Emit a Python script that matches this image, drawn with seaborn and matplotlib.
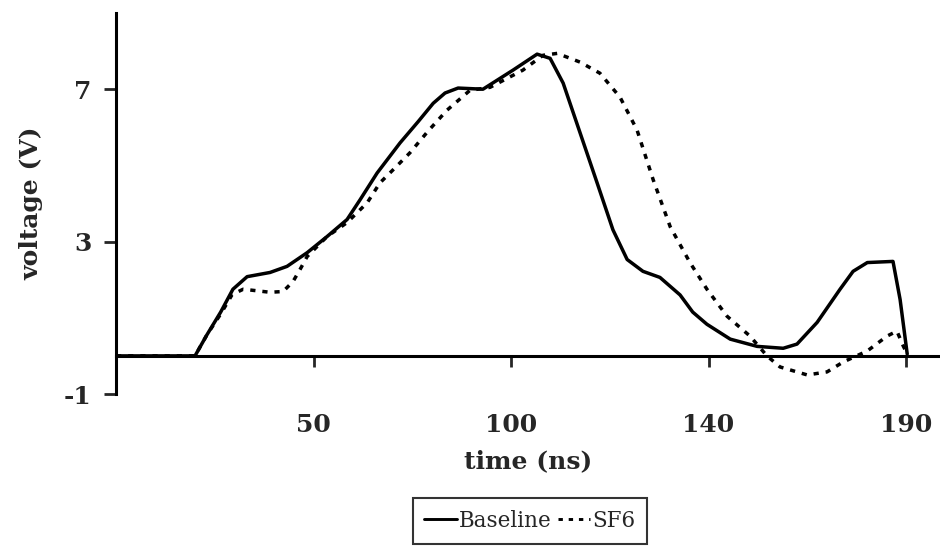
# Pulse voltage vs. time, baseline vs. SF6

import pandas as pd
import matplotlib
matplotlib.use("Agg")
import matplotlib.pyplot as plt
from matplotlib.lines import Line2D
import seaborn as sns

# --- data (tick positions 50,100,150,200 carry labels 50,100,140,190) ---
baseline_t = [0, 20.0, 23.0, 26.5, 29.6, 33.2, 39.0, 43.3, 48.4, 53.4, 58.5, 61.8, 66.1, 71.9,
              76.5, 80.3, 83.3, 86.6, 92.9, 100.5, 106.6, 109.9, 113.2, 117.5, 121.8, 125.8,
              129.4, 133.4, 137.7, 142.8, 146.0, 149.6, 155.5, 162.3, 168.9, 172.4, 177.5,
              183.3, 186.6, 190.2, 196.7, 198.5, 200.3]
baseline_v = [0, 0.0, 0.55, 1.15, 1.75, 2.08, 2.19, 2.35, 2.71, 3.13, 3.58, 4.10, 4.80, 5.59,
              6.15, 6.63, 6.90, 7.03, 7.00, 7.50, 7.92, 7.81, 7.16, 5.85, 4.54, 3.31,
              2.53, 2.22, 2.06, 1.60, 1.15, 0.83, 0.44, 0.25, 0.20, 0.31, 0.88,
              1.75, 2.22, 2.45, 2.48, 1.48, 0.05]

sf6_t = [0, 20.0, 23.0, 26.5, 29.4, 32.2, 39.0, 42.3, 44.8, 46.6, 48.4, 53.4, 58.5, 63.6, 66.8,
         70.1, 74.4, 79.0, 83.8, 89.6, 94.7, 103.0, 108.1, 111.7, 117.5, 122.5, 127.6, 131.9,
         136.0, 140.3, 145.3, 149.6, 154.7, 160.5, 164.8, 168.1, 175.0, 180.0, 184.1,
         190.2, 195.2, 197.7, 199.3, 200.3]
sf6_v = [0, 0.0, 0.55, 1.10, 1.61, 1.75, 1.67, 1.69, 1.95, 2.27, 2.61, 3.13, 3.50, 4.02, 4.54,
         4.88, 5.33, 5.90, 6.45, 6.97, 7.05, 7.50, 7.89, 7.94, 7.71, 7.42, 6.79, 5.93,
         4.62, 3.39, 2.45, 1.75, 1.04, 0.52, 0.0, -0.29, -0.50, -0.42, -0.16,
         0.13, 0.52, 0.65, 0.26, 0.05]

x_ticks = [50, 100, 150, 200]
x_tick_labels = ["50", "100", "140", "190"]
y_ticks = [7, 3, -1]

df = pd.concat([
    pd.DataFrame({"time": baseline_t, "voltage": baseline_v, "series": "Baseline"}),
    pd.DataFrame({"time": sf6_t, "voltage": sf6_v, "series": "SF6"}),
])

sns.set_style("white")
plt.rcParams["font.family"] = ["DejaVu Serif"]

fig = plt.figure(figsize=(9.4, 5.52), dpi=100)
ax = fig.add_axes([116 / 940, 158 / 552, 824 / 940, 381 / 552])

sns.lineplot(data=df, x="time", y="voltage", style="series",
             dashes={"Baseline": "", "SF6": (1.5, 2.0)},
             color="black", linewidth=2.5, sort=False, estimator=None,
             legend=False, ax=ax)

ax.set_xlim(0, 208.6)
ax.set_ylim(-1, 9)

ax.spines["top"].set_visible(False)
ax.spines["right"].set_visible(False)
ax.spines["bottom"].set_position(("data", 0))
for s in ("left", "bottom"):
    ax.spines[s].set_linewidth(2.2)
    ax.spines[s].set_color("black")

ax.set_xticks(x_ticks)
ax.set_xticklabels(x_tick_labels, fontweight="bold")
ax.set_yticks(y_ticks)
ax.set_yticklabels([str(v) for v in y_ticks], fontweight="bold")
ax.tick_params(axis="x", direction="out", length=8, width=2, pad=33, labelsize=18)
ax.tick_params(axis="y", direction="out", length=8.5, width=2, pad=9, labelsize=18)
ax.tick_params(bottom=True, left=True)

ax.set_xlabel("time (ns)", fontsize=18, fontweight="bold", labelpad=9)
ax.set_ylabel("voltage (V)", fontsize=18, fontweight="bold", labelpad=15)

# legend in a plain box below the axes
handles = [Line2D([], [], color="black", lw=2.1),
           Line2D([], [], color="black", lw=2.1, dashes=(1.5, 2.0))]
leg = fig.legend(handles, ["Baseline", "SF6"], loc="center",
                 bbox_to_anchor=(530 / 940, 1 - 521 / 552), ncol=2,
                 prop={"size": 15.5, "weight": "normal"}, frameon=True, fancybox=False,
                 handlelength=1.5, handletextpad=0.1, columnspacing=0.3,
                 borderpad=0.55, borderaxespad=0)
leg.get_frame().set_edgecolor("black")
leg.get_frame().set_linewidth(1.5)

fig.savefig("out.png", dpi=100)
